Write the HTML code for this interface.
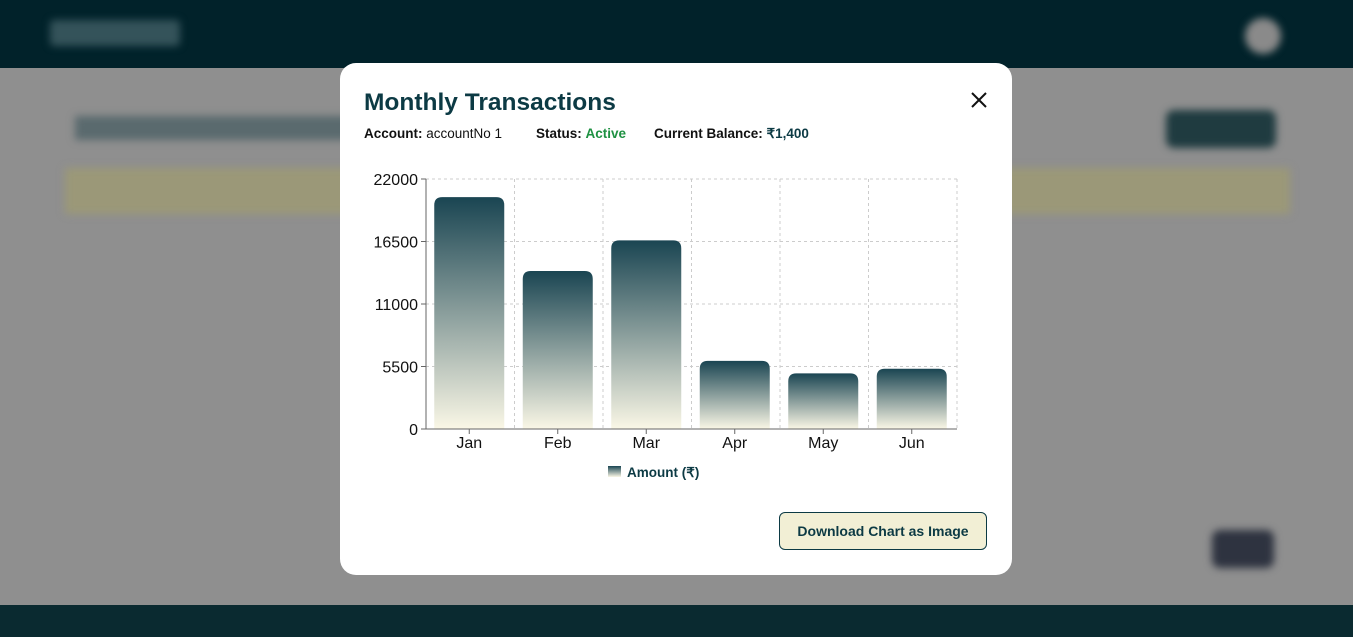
<!DOCTYPE html>
<html><head><meta charset="utf-8">
<style>
body{margin:0;width:1353px;height:637px;overflow:hidden;font-family:"Liberation Sans",sans-serif;background:#8f8f8f;position:relative}
.hdr{position:absolute;left:0;top:0;width:1353px;height:68px;background:#01222a}
.ftr{position:absolute;left:0;top:605px;width:1353px;height:32px;background:#0a2a30}
.blur{position:absolute;filter:blur(4px)}
.modal{position:absolute;left:340px;top:63px;width:672px;height:512px;background:#fff;border-radius:16px}
.title{position:absolute;left:24px;top:26px;font-size:24.5px;font-weight:bold;color:#0c3a44}
.info{position:absolute;left:24px;top:63px;font-size:13.5px;color:#111;white-space:nowrap}
.info span{position:absolute;top:0}
.close{position:absolute;left:630px;top:28px;width:18px;height:18px}
.btn{position:absolute;left:439px;top:449px;width:206px;height:36px;background:#f2efd5;border:1px solid #0c3a44;border-radius:6px;font-size:14px;font-weight:bold;color:#0c3a44;text-align:center;line-height:36px}
</style></head><body>
<div class="hdr"><div class="blur" style="left:50px;top:20px;width:130px;height:26px;background:#34535a;border-radius:4px"></div><div class="blur" style="left:1245px;top:18px;width:36px;height:36px;background:#8a8a8a;border-radius:50%"></div></div>
<div class="blur" style="left:75px;top:116px;width:280px;height:24px;background:#5a6a6e"></div>
<div class="blur" style="left:1166px;top:110px;width:110px;height:38px;background:#1f3b40;border-radius:8px"></div>
<div class="blur" style="left:65px;top:168px;width:1225px;height:46px;background:#9b9878"></div>
<div class="blur" style="left:1212px;top:530px;width:62px;height:38px;background:#2e3340;border-radius:8px"></div>
<div class="ftr"></div>
<div class="modal">
<div class="title">Monthly Transactions</div>
<div class="info"><span style="left:0"><b>Account:</b> accountNo 1</span><span style="left:172px"><b>Status:</b> <b style="color:#1e9142">Active</b></span><span style="left:290px"><b>Current Balance:</b> <b style="color:#0c3a44">₹1,400</b></span></div>
<svg class="close" viewBox="0 0 18 18"><path d="M2 2L16 16M16 2L2 16" stroke="#111" stroke-width="2"/></svg>
<div class="btn">Download Chart as Image</div>
</div>
<svg id="chart" width="1353" height="637" style="position:absolute;left:0;top:0">
<defs><linearGradient id="g" x1="0" y1="0" x2="0" y2="1"><stop offset="0" stop-color="#1a4552"/><stop offset="1" stop-color="#faf7e6"/></linearGradient></defs>
</svg>
<script>
const categories=["Jan","Feb","Mar","Apr","May","Jun"];
const amounts=[20400,13900,16600,6000,4900,5300];
const yTicks=[0,5500,11000,16500,22000];
const svg=document.getElementById('chart');const NS='http://www.w3.org/2000/svg';
const L=426,R=957,T=179,B=429,yMax=22000;
const y=v=>B-(v/yMax)*(B-T);const bw=(R-L)/categories.length;const x=i=>L+bw*i;
function mk(t,a,p){const e=document.createElementNS(NS,t);for(const k in a)e.setAttribute(k,a[k]);(p||svg).appendChild(e);return e;}
yTicks.forEach(v=>{
if(v>0){const g=mk('line',{x1:L,x2:R,y1:y(v),y2:y(v),stroke:'#ccc','stroke-dasharray':'3 3'});}
mk('line',{x1:L-5,x2:L,y1:y(v),y2:y(v),stroke:'#666'});
const t=mk('text',{x:L-8,y:y(v)+6,'text-anchor':'end','font-size':16,fill:'#111','font-family':'Liberation Sans'});t.textContent=v;
});
for(let i=0;i<=categories.length;i++){const g=mk('line',{x1:x(i),x2:x(i),y1:T,y2:B,stroke:'#ccc','stroke-dasharray':'3 3'});}
categories.forEach((c,i)=>{const cx=x(i)+bw/2-1,top=y(amounts[i]),w=70,h=B-top,r=Math.min(8,h/2);
const p=mk('path',{d:`M${cx-w/2},${B}V${top+r}Q${cx-w/2},${top} ${cx-w/2+r},${top}H${cx+w/2-r}Q${cx+w/2},${top} ${cx+w/2},${top+r}V${B}Z`,fill:'url(#g)'});

mk('line',{x1:cx,x2:cx,y1:B,y2:B+5,stroke:'#666'});
const t=mk('text',{x:cx,y:B+19,'text-anchor':'middle','font-size':16,fill:'#111','font-family':'Liberation Sans'});t.textContent=c;
});
mk('line',{x1:L,x2:L,y1:T,y2:B,stroke:'#666'});mk('line',{x1:L,x2:R,y1:B,y2:B,stroke:'#666'});
const lg=mk('rect',{x:608,y:466,width:13,height:11,fill:'url(#g)'});
const lt=mk('text',{x:627,y:477,'font-size':13.5,'font-weight':'bold',fill:'#0c3a44','font-family':'Liberation Sans'});lt.textContent='Amount (₹)';

</script>
</body></html>
